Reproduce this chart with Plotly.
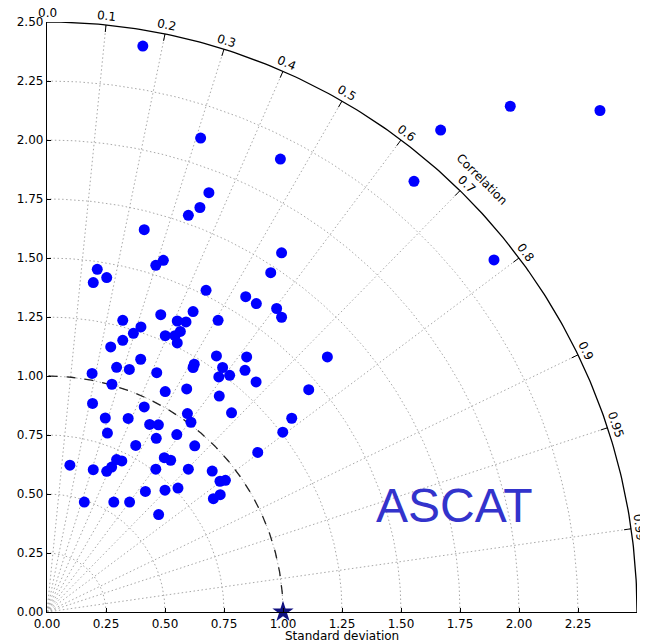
import numpy as np
import plotly.graph_objects as go

# Cartesian coordinates (x = std*corr, y = std*sqrt(1-corr^2))
pts_x = [0.406, 1.963, 2.343, 1.668, 0.651, 0.989, 1.555, 0.686, 0.648, 0.599,
         0.412, 0.994, 1.894, 0.493, 0.461, 0.213, 0.948, 0.253, 0.196, 0.674,
         0.842, 0.887, 0.973, 0.619, 0.482, 0.994, 0.321, 0.552, 0.589, 0.725,
         0.398, 0.565, 0.366, 0.501, 0.542, 0.321, 0.552, 0.270, 0.718, 0.846,
         1.188, 0.397, 0.624, 0.295, 0.619, 0.744, 0.349, 0.839, 0.465, 0.191,
         0.774, 0.728, 0.886, 0.275, 0.592, 1.109, 0.501, 0.730, 0.193, 0.412,
         0.782, 0.595, 0.247, 0.344, 1.037, 0.610, 0.435, 0.472, 0.999, 0.256,
         0.550, 0.463, 0.376, 0.626, 0.893, 0.097, 0.295, 0.317, 0.497, 0.524,
         0.274, 0.196, 0.253, 0.461, 0.599, 0.700, 0.733, 0.756, 0.417, 0.500,
         0.555, 0.734, 0.705, 0.158, 0.283, 0.350, 0.473]
pts_y = [2.398, 2.143, 2.125, 2.042, 2.008, 1.919, 1.825, 1.777, 1.714, 1.681,
         1.620, 1.522, 1.492, 1.490, 1.469, 1.452, 1.438, 1.417, 1.396, 1.363,
         1.336, 1.307, 1.286, 1.273, 1.260, 1.249, 1.236, 1.233, 1.229, 1.236,
         1.208, 1.189, 1.181, 1.171, 1.171, 1.151, 1.140, 1.123, 1.085, 1.081,
         1.081, 1.071, 1.050, 1.037, 1.036, 1.036, 1.028, 1.024, 1.014, 1.011,
         1.003, 0.996, 0.975, 0.965, 0.945, 0.942, 0.934, 0.915, 0.884, 0.869,
         0.844, 0.841, 0.822, 0.820, 0.821, 0.804, 0.795, 0.793, 0.762, 0.758,
         0.752, 0.736, 0.706, 0.704, 0.676, 0.622, 0.646, 0.640, 0.654, 0.643,
         0.614, 0.603, 0.596, 0.605, 0.605, 0.597, 0.554, 0.558, 0.511, 0.516,
         0.525, 0.497, 0.480, 0.466, 0.466, 0.466, 0.413]

ref_std = [1.0]
ref_corr = [1.0]

corr_ticks = [0.0, 0.1, 0.2, 0.3, 0.4, 0.5, 0.6, 0.7, 0.8, 0.9, 0.95, 0.99]
corr_labels = ["0.0", "0.1", "0.2", "0.3", "0.4", "0.5", "0.6", "0.7", "0.8", "0.9", "0.95", "0.99"]
std_ticks = [0.0, 0.25, 0.5, 0.75, 1.0, 1.25, 1.5, 1.75, 2.0, 2.25, 2.5]
std_labels = ["0.00", "0.25", "0.50", "0.75", "1.00", "1.25", "1.50", "1.75", "2.00", "2.25", "2.50"]
std_max = 2.5
panel_label = "ASCAT"

FONT = "DejaVu Sans"
GRID = dict(color="#a8a8a8", width=1, dash="1.5px,2.5px")
fig = go.Figure()

th = np.linspace(0, np.pi / 2, 200)

# dotted std arcs
ax_, ay_ = [], []
for r in std_ticks[1:-1]:
    ax_ += list(r * np.cos(th)) + [None]
    ay_ += list(r * np.sin(th)) + [None]
fig.add_trace(go.Scatter(x=ax_, y=ay_, mode="lines", hoverinfo="skip", line=GRID))

# dotted correlation rays
rx, ry = [], []
for c in corr_ticks[1:]:
    t = np.arccos(c)
    rx += [0, std_max * np.cos(t), None]
    ry += [0, std_max * np.sin(t), None]
fig.add_trace(go.Scatter(x=rx, y=ry, mode="lines", hoverinfo="skip", line=GRID))

# outer arc
fig.add_trace(go.Scatter(x=std_max * np.cos(th), y=std_max * np.sin(th), mode="lines",
                         hoverinfo="skip", line=dict(color="black", width=1.3)))
# ticks on outer arc
tx, ty = [], []
for c in corr_ticks[1:]:
    t = np.arccos(c)
    tx += [std_max * np.cos(t), (std_max - 0.03) * np.cos(t), None]
    ty += [std_max * np.sin(t), (std_max - 0.03) * np.sin(t), None]
fig.add_trace(go.Scatter(x=tx, y=ty, mode="lines", hoverinfo="skip",
                         line=dict(color="black", width=1)))

# reference dashed arc
fig.add_trace(go.Scatter(x=ref_std[0] * np.cos(th), y=ref_std[0] * np.sin(th), mode="lines",
                         hoverinfo="skip", line=dict(color="#222222", width=1.3, dash="dash")))

# model points
fig.add_trace(go.Scatter(x=pts_x, y=pts_y, mode="markers",
                         marker=dict(color="#0000ff", size=11, line=dict(width=0))))

# reference star
rs = np.array(ref_std)
rc = np.array(ref_corr)
fig.add_trace(go.Scatter(x=rs * rc, y=rs * np.sqrt(1 - rc ** 2),
                         mode="markers", cliponaxis=False,
                         marker=dict(symbol="star", color="#101080", size=16, line=dict(width=0))))

annotations = []
r_lab = 2.537
for c, lab in zip(corr_ticks, corr_labels):
    t = np.arccos(c)
    annotations.append(dict(x=r_lab * np.cos(t) / std_max, y=r_lab * np.sin(t) / std_max,
                            xref="paper", yref="paper", text=lab, showarrow=False,
                            textangle=90 - np.degrees(t), xanchor="center", yanchor="middle",
                            font=dict(family=FONT, size=12, color="black")))
tc = np.radians(44.9)
annotations.append(dict(x=2.60 * np.cos(tc) / std_max, y=2.60 * np.sin(tc) / std_max,
                        xref="paper", yref="paper", text="Correlation", showarrow=False,
                        textangle=45, xanchor="center", yanchor="middle",
                        font=dict(family=FONT, size=12, color="black")))
annotations.append(dict(x=0.5, y=-0.041, xref="paper", yref="paper", text="Standard deviation",
                        showarrow=False, xanchor="center", yanchor="middle",
                        font=dict(family=FONT, size=12, color="black")))
annotations.append(dict(x=1.725 / std_max, y=0.452 / std_max, xref="paper", yref="paper",
                        text=panel_label, showarrow=False, xanchor="center", yanchor="middle",
                        font=dict(family="Liberation Sans", size=48, color="#3333cc")))

axis_common = dict(range=[0, std_max], tickmode="array", tickvals=std_ticks, ticktext=std_labels,
                   ticks="inside", ticklen=4, tickcolor="black", showline=True, linecolor="black",
                   linewidth=1.3, showgrid=False, zeroline=False,
                   tickfont=dict(family=FONT, size=12, color="black"))

# the page body adds an 8px offset, so the figure is 640x635 with margins compensated
fig.update_layout(
    width=640, height=635,
    margin=dict(l=39, r=11, t=14, b=31, autoexpand=False),
    plot_bgcolor="white", paper_bgcolor="white",
    showlegend=False,
    xaxis=dict(**axis_common),
    yaxis=dict(**axis_common),
    annotations=annotations,
)

fig.write_html("out.html")
